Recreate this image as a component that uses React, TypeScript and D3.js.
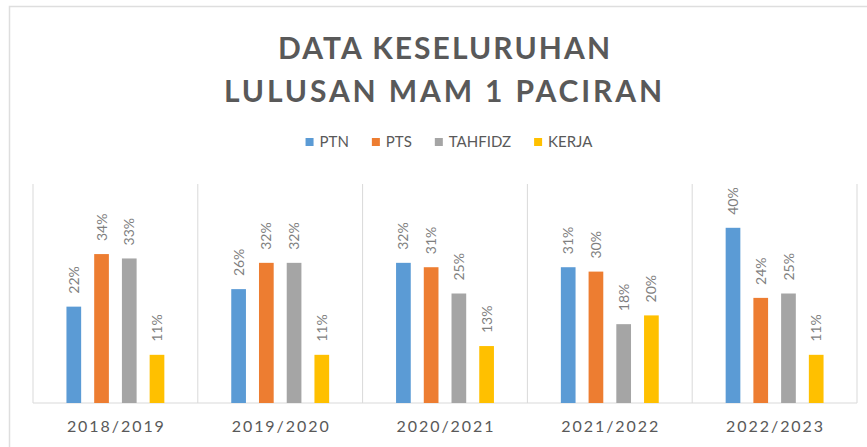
import React from "react";
import * as d3 from "d3";

const categories = ["2018/2019", "2019/2020", "2020/2021", "2021/2022", "2022/2023"];
const seriesNames = ["PTN", "PTS", "TAHFIDZ", "KERJA"];
const ptn = [22, 26, 32, 31, 40];
const pts = [34, 32, 31, 30, 24];
const tahfidz = [33, 32, 25, 18, 25];
const kerja = [11, 11, 13, 20, 11];
const seriesValues = [ptn, pts, tahfidz, kerja];
const colors = ["#5B9BD5", "#ED7D31", "#A5A5A5", "#FFC000"];
const titleLines = ["DATA KESELURUHAN", "LULUSAN MAM 1 PACIRAN"];

const W = 867;
const H = 447;
const FONT = "Lato, 'Open Sans', sans-serif";

function measure(text: string, font: string): number {
  const c = document.createElement("canvas").getContext("2d");
  if (!c) return text.length * 8;
  c.font = font;
  return c.measureText(text).width;
}

export default function App() {
  const plotLeft = 33;
  const plotRight = 857;
  const plotTop = 184;
  const baseY = 403;

  const x = d3.scaleBand<string>().domain(categories).range([plotLeft, plotRight]).padding(0);
  const gw = x.bandwidth();
  const inner = d3
    .scaleBand<string>()
    .domain(seriesNames)
    .range([gw * 0.203, gw * 0.797])
    .paddingInner(0.47)
    .paddingOuter(0);
  const y = d3.scaleLinear().domain([0, 50]).range([baseY, plotTop]);

  // legend layout
  const legFont = `15px ${FONT}`;
  const sq = 8;
  const sqGap = 6;
  const itemGap = 23;
  const widths = seriesNames.map((s) => measure(s, legFont));
  const total =
    widths.reduce((a, b) => a + b, 0) + seriesNames.length * (sq + sqGap) + itemGap * (seriesNames.length - 1);
  let lx = 449 - total / 2;
  const legendItems = seriesNames.map((s, i) => {
    const item = { name: s, x: lx, color: colors[i] };
    lx += sq + sqGap + widths[i] + itemGap;
    return item;
  });

  const boundaries = [...categories.map((c) => x(c) as number), plotRight];

  return (
    <svg
      width={W}
      height={H}
      style={{ position: "absolute", left: 0, top: 0, background: "#fff" }}
      fontFamily={FONT}
    >
      <rect x={9.5} y={6.5} width={900} height={500} fill="#fff" stroke="#dedede" strokeWidth={1.5} />

      {/* Title */}
      <text x={444} y={59} textAnchor="middle" fontSize={30} fontWeight={700} fill="#595959" textLength={332} lengthAdjust="spacing">
        {titleLines[0]}
      </text>
      <text x={443} y={102} textAnchor="middle" fontSize={30} fontWeight={700} fill="#595959" textLength={438} lengthAdjust="spacing">
        {titleLines[1]}
      </text>

      {/* Legend */}
      {legendItems.map((it) => (
        <g key={it.name}>
          <rect x={it.x} y={142 - sq / 2} width={sq} height={sq} fill={it.color} />
          <text x={it.x + sq + sqGap} y={142} dy="0.36em" fontSize={15} fill="#595959">
            {it.name}
          </text>
        </g>
      ))}

      {/* Grid */}
      {boundaries.map((bx, i) => (
        <line key={i} x1={bx} x2={bx} y1={plotTop} y2={baseY} stroke="#d9d9d9" strokeWidth={1} />
      ))}
      <line x1={plotLeft} x2={plotRight} y1={baseY} y2={baseY} stroke="#d9d9d9" strokeWidth={1.2} />

      {/* Bars */}
      {categories.map((c, ci) => (
        <g key={c} transform={`translate(${x(c)},0)`}>
          {seriesNames.map((s, si) => {
            const v = seriesValues[si][ci];
            const bx = inner(s) as number;
            const bw = inner.bandwidth();
            const top = y(v);
            return (
              <g key={s}>
                <rect x={bx} y={top} width={bw} height={baseY - top} fill={colors[si]} />
                <text
                  transform={`translate(${bx + bw / 2},${top - 13}) rotate(-90)`}
                  dy="0.36em"
                  fontSize={14}
                  fill="#7f7f7f"
                  textAnchor="start"
                >
                  {`${v}%`}
                </text>
              </g>
            );
          })}
          <text x={gw / 2} y={432} textAnchor="middle" fontSize={16} fill="#595959" textLength={97} lengthAdjust="spacing">
            {c}
          </text>
        </g>
      ))}
    </svg>
  );
}
